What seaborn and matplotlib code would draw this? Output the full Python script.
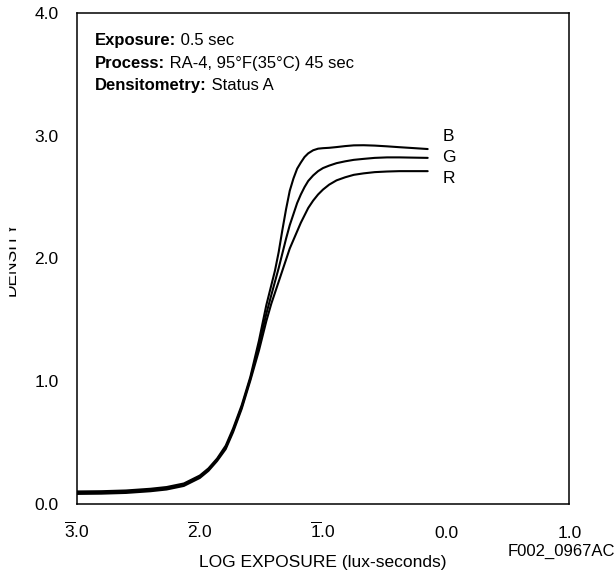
import matplotlib
matplotlib.use("Agg")
import matplotlib.pyplot as plt
import pandas as pd
import seaborn as sns

# log exposure (x) and density of each layer
log_exposure = [-3.0, -2.8, -2.6, -2.4, -2.27, -2.13, -2.0, -1.93, -1.86, -1.79,
                -1.73, -1.66, -1.59, -1.52, -1.46, -1.42, -1.39, -1.36, -1.33, -1.30,
                -1.27, -1.24, -1.21, -1.18, -1.15, -1.12, -1.08, -1.04, -1.0, -0.95,
                -0.89, -0.82, -0.75, -0.67, -0.58, -0.48, -0.38, -0.27, -0.15]
density_b = [0.102, 0.104, 0.110, 0.124, 0.138, 0.167, 0.232, 0.29, 0.37, 0.475,
             0.615, 0.805, 1.035, 1.33, 1.62, 1.78, 1.90, 2.05, 2.23, 2.40,
             2.55, 2.65, 2.73, 2.78, 2.825, 2.855, 2.88, 2.893, 2.897, 2.90,
             2.906, 2.914, 2.92, 2.921, 2.918, 2.912, 2.905, 2.898, 2.89]
density_g = [0.092, 0.094, 0.100, 0.114, 0.128, 0.157, 0.222, 0.28, 0.36, 0.46,
             0.60, 0.79, 1.02, 1.29, 1.55, 1.70, 1.81, 1.92, 2.04, 2.16,
             2.27, 2.36, 2.45, 2.52, 2.58, 2.63, 2.675, 2.71, 2.735, 2.755,
             2.775, 2.79, 2.802, 2.81, 2.818, 2.822, 2.822, 2.82, 2.818]
density_r = [0.082, 0.084, 0.090, 0.104, 0.118, 0.147, 0.212, 0.27, 0.35, 0.447,
             0.585, 0.775, 1.005, 1.25, 1.49, 1.63, 1.72, 1.81, 1.90, 1.99,
             2.08, 2.15, 2.22, 2.29, 2.35, 2.41, 2.47, 2.52, 2.56, 2.60,
             2.635, 2.66, 2.68, 2.692, 2.702, 2.707, 2.71, 2.71, 2.71]

layer_names = ["B", "G", "R"]
layer_label_x = -0.03
layer_label_y = [2.99, 2.818, 2.648]

x_ticks = [-3.0, -2.0, -1.0, 0.0, 1.0]
x_tick_labels = [r"$\overline{3}$.0", r"$\overline{2}$.0", r"$\overline{1}$.0", "0.0", "1.0"]
y_ticks = [0.0, 1.0, 2.0, 3.0, 4.0]
y_tick_labels = ["0.0", "1.0", "2.0", "3.0", "4.0"]

info_lines = [
    ("Exposure:", " 0.5 sec"),
    ("Process:", " RA-4, 95°F(35°C) 45 sec"),
    ("Densitometry:", " Status A"),
]

df = pd.DataFrame({
    "logE": log_exposure * 3,
    "D": density_b + density_g + density_r,
    "layer": [n for n in layer_names for _ in log_exposure],
})

sns.set_style("white")
plt.rcParams["font.family"] = ["Liberation Sans", "DejaVu Sans"]
plt.rcParams["mathtext.fontset"] = "custom"
plt.rcParams["mathtext.rm"] = "Liberation Sans"
plt.rcParams["mathtext.bf"] = "Liberation Sans:bold"
plt.rcParams["mathtext.it"] = "Liberation Sans:italic"
plt.rcParams["text.color"] = "black"
plt.rcParams["axes.labelcolor"] = "black"
plt.rcParams["xtick.color"] = "black"
plt.rcParams["ytick.color"] = "black"

fig = plt.figure(figsize=(6.16, 5.75), dpi=100)
ax = fig.add_axes([0.1245, 0.1235, 0.7997, 0.8544])

sns.lineplot(data=df, x="logE", y="D", hue="layer", estimator=None, sort=False,
             palette={"B": "black", "G": "black", "R": "black"},
             linewidth=1.5, legend=False, ax=ax)

ax.set_xlim(-3, 1)
ax.set_ylim(0, 4)
ax.set_xticks(x_ticks)
ax.set_xticklabels(x_tick_labels, fontsize=12.5)
ax.set_yticks(y_ticks)
ax.set_yticklabels(y_tick_labels, fontsize=12.5)
ax.tick_params(axis="both", direction="in", length=9, width=1.0, color="black",
               labelcolor="black")
ax.tick_params(axis="y", pad=13)
ax.tick_params(axis="x", pad=24.5)
for lab in ax.get_xticklabels():
    lab.set_verticalalignment("baseline")
for s in ax.spines.values():
    s.set_color("black")
    s.set_linewidth(1.1)

ax.set_xlabel("LOG EXPOSURE (lux-seconds)", fontsize=12.5, color="black")
ax.xaxis.set_label_coords(0.5, -0.103)
ax.set_ylabel("")

for name, y in zip(layer_names, layer_label_y):
    ax.text(layer_label_x, y, name, fontsize=12.5, ha="left", va="center")

line_y = [0.9343, 0.888, 0.8427]
fig.canvas.draw()
for (bold, rest), y in zip(info_lines, line_y):
    t = ax.text(0.037, y, bold, transform=ax.transAxes, fontsize=12,
                fontweight="bold", va="baseline")
    bb = t.get_window_extent(renderer=fig.canvas.get_renderer())
    x_end = ax.transAxes.inverted().transform((bb.x1, bb.y0))[0]
    ax.text(x_end, y, rest, transform=ax.transAxes, fontsize=12, va="baseline")

fig.text(15.7 / 616, 0.5513, "DENSITY", rotation=90, fontsize=12.5,
         ha="center", va="baseline", rotation_mode="anchor")
fig.patches.append(plt.Rectangle((0, 0), 8.3 / 616, 1, transform=fig.transFigure,
                                 color="white", zorder=10))

fig.text(508 / 616, 1 - 551 / 575, "F002_0967AC", fontsize=12, ha="left", va="center")

fig.savefig("out.png", dpi=100)
